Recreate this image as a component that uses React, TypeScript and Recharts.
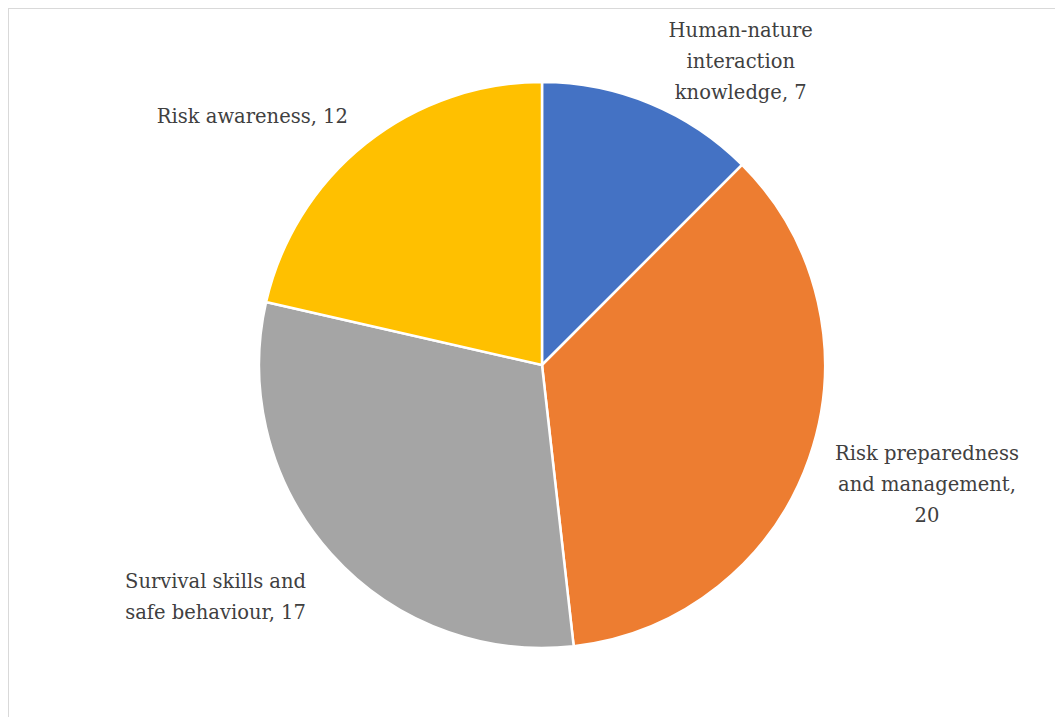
import { Cell, Pie, PieChart } from 'recharts';

const categories = [
  'Human-nature interaction knowledge',
  'Risk preparedness and management',
  'Survival skills and safe behaviour',
  'Risk awareness',
];
const counts = [7, 20, 17, 12];
const colors = ['#4472C4', '#ED7D31', '#A5A5A5', '#FFC000'];

// label text split the way the source wraps it
const labelLines = [
  ['Human-nature', 'interaction', 'knowledge, 7'],
  ['Risk preparedness', 'and management,', '20'],
  ['Survival skills and', 'safe behaviour, 17'],
  ['Risk awareness, 12'],
];

// where each label sits around the pie: polar angle (deg) and distance from centre
const labelPlace = [
  { angle: 56.8, dist: 363 },
  { angle: -17.2, dist: 403 },
  { angle: -144.7, dist: 400 },
  { angle: 139.3, dist: 382 },
];

const data = categories.map((name, i) => ({ name, value: counts[i] }));

const RAD = Math.PI / 180;
const LINE_H = 31;

function renderLabel(props: any) {
  const { cx, cy, index } = props;
  const place = labelPlace[index];
  const lines = labelLines[index];
  const x = cx + place.dist * Math.cos(place.angle * RAD);
  const y = cy - place.dist * Math.sin(place.angle * RAD);
  const top = y - ((lines.length - 1) * LINE_H) / 2;
  return (
    <text
      x={x}
      y={top}
      textAnchor="middle"
      dominantBaseline="central"
      fill="#404040"
      fontSize={19.5}
      fontFamily="'DejaVu Serif', serif"
    >
      {lines.map((line, i) => (
        <tspan key={i} x={x} y={top + i * LINE_H}>
          {line}
        </tspan>
      ))}
    </text>
  );
}

export default function App() {
  return (
    <div
      style={{
        width: 1066,
        height: 710,
        borderLeft: '1px solid #d9d9d9',
        borderTop: '1px solid #d9d9d9',
        background: '#fff',
      }}
    >
      <PieChart width={1066} height={710}>
        <Pie
          data={data}
          dataKey="value"
          nameKey="name"
          cx={528}
          cy={351}
          outerRadius={283}
          startAngle={90}
          endAngle={-270}
          stroke="#ffffff"
          strokeWidth={2.5}
          label={renderLabel}
          labelLine={false}
          isAnimationActive={false}
        >
          {data.map((d, i) => (
            <Cell key={d.name} fill={colors[i]} />
          ))}
        </Pie>
      </PieChart>
    </div>
  );
}
